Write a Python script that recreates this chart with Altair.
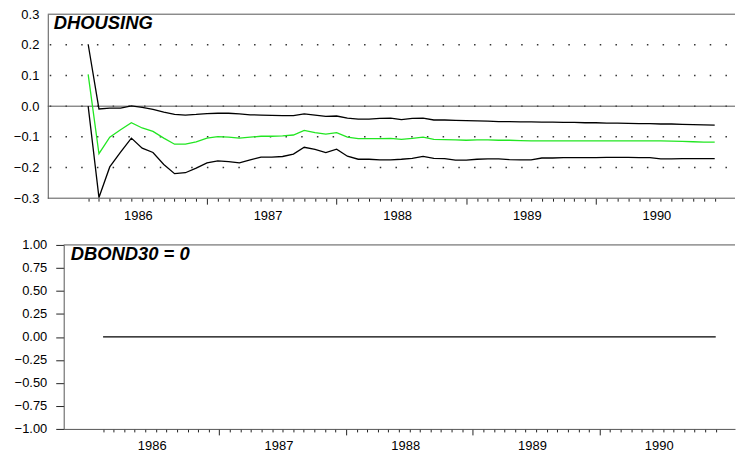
import altair as alt
import pandas as pd

# ---- data (monthly, 1986:02 .. 1990:12) ----
years = [1986, 1987, 1988, 1989, 1990]
periods = [(1986 + m // 12, m % 12 + 1) for m in range(1, 60)]  # (year, month)
t = [y + (mo - 1) / 12 for (y, mo) in periods]

upper = [0.202, -0.009, -0.006, -0.006, 0.001, -0.004, -0.010, -0.019, -0.027, -0.029,
         -0.027, -0.024, -0.023, -0.023, -0.025, -0.028, -0.029, -0.030, -0.031, -0.031,
         -0.025, -0.029, -0.033, -0.032, -0.039, -0.042, -0.042, -0.040, -0.039, -0.044,
         -0.040, -0.039, -0.045, -0.045, -0.046, -0.047, -0.048, -0.049, -0.050, -0.050,
         -0.051, -0.051, -0.052, -0.052, -0.053, -0.053, -0.054, -0.054, -0.055, -0.055,
         -0.056, -0.057, -0.057, -0.058, -0.058, -0.059, -0.060, -0.061, -0.062]
irf = [0.104, -0.155, -0.101, -0.077, -0.054, -0.071, -0.082, -0.104, -0.124, -0.124,
       -0.116, -0.104, -0.099, -0.101, -0.104, -0.101, -0.098, -0.098, -0.097, -0.094,
       -0.079, -0.086, -0.091, -0.086, -0.101, -0.106, -0.106, -0.106, -0.105, -0.108,
       -0.105, -0.101, -0.108, -0.109, -0.110, -0.111, -0.110, -0.110, -0.111, -0.111,
       -0.112, -0.113, -0.113, -0.113, -0.113, -0.113, -0.113, -0.113, -0.113, -0.113,
       -0.113, -0.113, -0.113, -0.113, -0.114, -0.115, -0.116, -0.117, -0.117]
lower = [0.000, -0.298, -0.198, -0.150, -0.104, -0.137, -0.151, -0.190, -0.220, -0.217,
         -0.202, -0.185, -0.178, -0.181, -0.185, -0.175, -0.166, -0.166, -0.164, -0.156,
         -0.134, -0.141, -0.151, -0.140, -0.163, -0.173, -0.173, -0.175, -0.175, -0.173,
         -0.170, -0.164, -0.170, -0.171, -0.176, -0.176, -0.173, -0.172, -0.172, -0.174,
         -0.175, -0.175, -0.169, -0.169, -0.168, -0.168, -0.168, -0.168, -0.167, -0.167,
         -0.167, -0.168, -0.168, -0.172, -0.172, -0.171, -0.171, -0.171, -0.171]
bond = [0.0, 0.0, 0.0, 0.0, 0.0, 0.0, 0.0, 0.0, 0.0, 0.0,
        0.0, 0.0, 0.0, 0.0, 0.0, 0.0, 0.0, 0.0, 0.0, 0.0,
        0.0, 0.0, 0.0, 0.0, 0.0, 0.0, 0.0, 0.0, 0.0, 0.0,
        0.0, 0.0, 0.0, 0.0, 0.0, 0.0, 0.0, 0.0, 0.0, 0.0,
        0.0, 0.0, 0.0, 0.0, 0.0, 0.0, 0.0, 0.0, 0.0, 0.0,
        0.0, 0.0, 0.0, 0.0, 0.0, 0.0, 0.0, 0.0, 0.0]

top_title = ["DHOUSING"]
bottom_title = ["DBOND30 = 0"]
top_yticks = [-0.3, -0.2, -0.1, 0.0, 0.1, 0.2, 0.3]
bottom_yticks = [-1.0, -0.75, -0.5, -0.25, 0.0, 0.25, 0.5, 0.75, 1.0]

# ---- styling / layout ----
FONT = "Liberation Sans"
W, H = 675, 185
TOP_SHIFT = 16          # top panel frame starts this many px left of the shared origin
LABEL_OFFSET = 0.467
FRAME = "#555"
top_xdom = [1985.8946, 1991.0732]
bot_xdom = [1985.7726, 1991.0687]
label_pos = [y + LABEL_OFFSET for y in years]
x_tick_values = t + label_pos

band_df = pd.DataFrame({"t": t + t, "value": upper + lower,
                        "series": ["upper"] * len(t) + ["lower"] * len(t)})
irf_df = pd.DataFrame({"t": t, "value": irf})
bond_df = pd.DataFrame({"t": t, "value": bond})
grid_df = pd.DataFrame({"value": [v for v in top_yticks if abs(v) < 0.25]})
zero_df = pd.DataFrame({"value": [0.0]})
one = pd.DataFrame({"z": [0]})

is_label = f"abs(datum.value - floor(datum.value) - {LABEL_OFFSET}) < 0.001"
is_major = "abs(datum.value - round(datum.value)) < 0.001"


def x_axis(show_domain):
    return alt.Axis(
        values=x_tick_values, tickCount=200, title=None, grid=False,
        domain=show_domain, domainColor=FRAME, domainWidth=1,
        tickColor="#222", tickWidth=1,
        tickSize={"condition": {"test": is_major, "value": 6}, "value": 3},
        tickOpacity={"condition": {"test": is_label, "value": 0}, "value": 1},
        labelExpr=f"{is_label} ? floor(datum.value) + '' : ''",
        labelOverlap=False, labelFlush=False, labelPadding=8,
        labelFont=FONT, labelFontSize=13, labelColor="black",
    )


# ---- top panel ----
top_y_axis = alt.Axis(
    values=top_yticks, tickCount=50, format=".1f", title=None, ticks=False, grid=False,
    offset=TOP_SHIFT, domainColor=FRAME, labelPadding=9, labelFont=FONT,
    labelFontSize=13, labelColor="black", labelOverlap=False, labelFlush=False,
)
top_x = alt.X("t:Q", scale=alt.Scale(domain=top_xdom, nice=False, zero=False), axis=x_axis(False))
top_y = alt.Y("value:Q", scale=alt.Scale(domain=[-0.3, 0.3], nice=False), axis=top_y_axis)
frame_x = dict(x=alt.value(-TOP_SHIFT), x2=alt.value(W))

grid = alt.Chart(grid_df).mark_rule(
    color="#333", strokeWidth=1.5, strokeDash=[1.5, 14.3], strokeDashOffset=-2
).encode(y=top_y, **frame_x)
zero_rule = alt.Chart(zero_df).mark_rule(color=FRAME, strokeWidth=1).encode(y=top_y, **frame_x)
top_border = alt.Chart(one).mark_rule(color=FRAME, strokeWidth=1).encode(y=alt.value(0), **frame_x)
top_bottom = alt.Chart(one).mark_rule(color=FRAME, strokeWidth=1).encode(y=alt.value(H), **frame_x)
bands = alt.Chart(band_df).mark_line(color="black", strokeWidth=1.3).encode(
    x=top_x, y=top_y, detail="series:N")
irf_line = alt.Chart(irf_df).mark_line(color="#22e622", strokeWidth=1.3).encode(x=top_x, y=top_y)
top_label = alt.Chart(pd.DataFrame({"label": top_title})).mark_text(
    font=FONT, fontSize=18.5, fontWeight="bold", fontStyle="italic",
    align="left", baseline="alphabetic", color="black").encode(
    text="label:N", x=alt.value(6 - TOP_SHIFT), y=alt.value(15))

top = alt.layer(grid, zero_rule, top_border, top_bottom, bands, irf_line, top_label).properties(
    width=W, height=H)

# ---- bottom panel ----
bottom_y_axis = alt.Axis(
    values=bottom_yticks, tickCount=50, format=".2f", title=None, ticks=True, tickSize=8,
    tickColor="#222", grid=False, domainColor=FRAME, labelPadding=9,
    labelFont=FONT, labelFontSize=13, labelColor="black",
    labelOverlap=False, labelFlush=False,
)
bot_x = alt.X("t:Q", scale=alt.Scale(domain=bot_xdom, nice=False, zero=False), axis=x_axis(True))
bot_y = alt.Y("value:Q", scale=alt.Scale(domain=[-1, 1], nice=False), axis=bottom_y_axis)

bond_line = alt.Chart(bond_df).mark_line(color="black", strokeWidth=1.3).encode(x=bot_x, y=bot_y)
bot_border = alt.Chart(one).mark_rule(color=FRAME, strokeWidth=1).encode(
    y=alt.value(0), x=alt.value(0), x2=alt.value(W))
bot_label = alt.Chart(pd.DataFrame({"label": bottom_title})).mark_text(
    font=FONT, fontSize=18.5, fontWeight="bold", fontStyle="italic",
    align="left", baseline="alphabetic", color="black").encode(
    text="label:N", x=alt.value(7), y=alt.value(15))

bottom = alt.layer(bot_border, bond_line, bot_label).properties(width=W, height=H)

chart = alt.vconcat(top, bottom, spacing=14).properties(
    padding={"left": 5, "top": -1, "right": 0, "bottom": 0}
).configure(background="white").configure_view(stroke=None)

chart.save("out.html", embed_options={"renderer": "svg", "actions": False})
